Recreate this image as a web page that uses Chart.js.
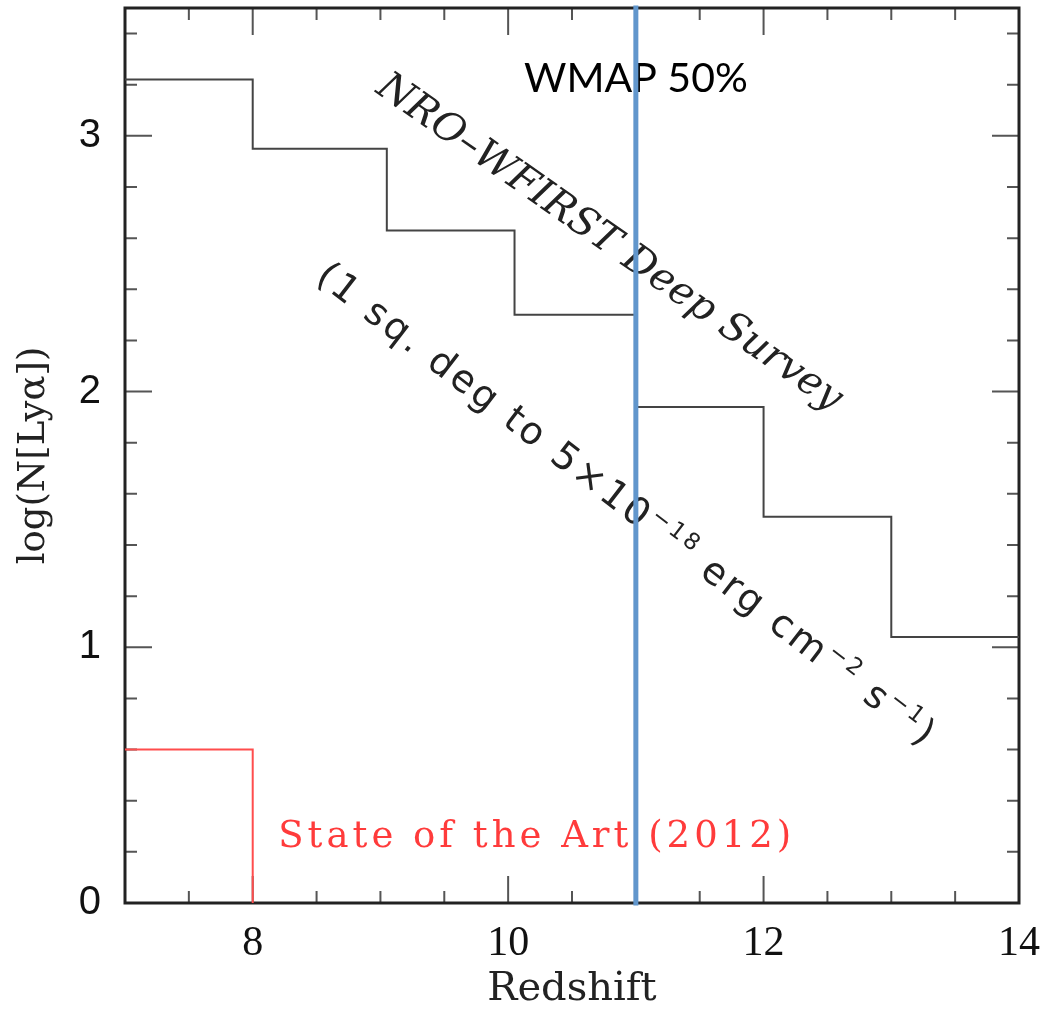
<!DOCTYPE html>
<html>
<head>
<meta charset="utf-8">
<script src="https://cdn.jsdelivr.net/npm/chart.js@4.4.0/dist/chart.umd.min.js"></script>
<style>
    html, body { margin: 0; padding: 0; background: #fff; }
</style>
</head>
<body>
<canvas id="lya_counts" width="1045" height="1010"></canvas>
<script>
// NRO-WFIRST deep survey: redshift bin edges and log(N[Lya]) per bin
var nroEdges = [7, 8, 9.05, 10.05, 11, 12, 13, 14];
var nroLogN = [3.22, 2.95, 2.63, 2.30, 1.94, 1.51, 1.04];
// state of the art (2012)
var sotaEdges = [7, 8];
var sotaLogN = [0.60];
// WMAP 50% reionization redshift
var wmapRedshift = 11;

var xRange = [7, 14];
var yRange = [0, 3.5];
var xTickLabels = [8, 10, 12, 14];
var yTickLabels = [0, 1, 2, 3];
var xMinorStep = 0.5;
var yMinorStep = 0.2;

function stepPoints(edges, values, dropToZero) {
    var pts = [];
    for (var i = 0; i < values.length; i++) {
        pts.push({x: edges[i], y: values[i]});
    }
    var last = values.length - 1;
    pts.push({x: edges[last + 1], y: values[last]});
    if (dropToZero) pts.push({x: edges[last + 1], y: 0});
    return pts;
}

// frame + inward ticks on all four sides (pgplot style)
var frameTicks = {
    id: 'frameTicks',
    beforeDatasetsDraw: function(chart) {
        var ctx = chart.ctx, a = chart.chartArea;
        var sx = chart.scales.x, sy = chart.scales.y;
        ctx.save();
        ctx.strokeStyle = '#555';
        ctx.lineWidth = 2;
        ctx.beginPath();
        var v, p, len;
        for (v = xRange[0]; v <= xRange[1] + 1e-9; v += xMinorStep) {
            p = sx.getPixelForValue(v);
            len = xTickLabels.indexOf(v) >= 0 ? 27 : 12;
            ctx.moveTo(p, a.bottom); ctx.lineTo(p, a.bottom - len);
            ctx.moveTo(p, a.top); ctx.lineTo(p, a.top + len);
        }
        for (var k = 0; k * yMinorStep <= yRange[1] + 1e-9; k++) {
            v = Math.round(k * yMinorStep * 10) / 10;
            p = sy.getPixelForValue(v);
            len = yTickLabels.indexOf(v) >= 0 ? 27 : 12;
            ctx.moveTo(a.left, p); ctx.lineTo(a.left + len, p);
            ctx.moveTo(a.right, p); ctx.lineTo(a.right - len, p);
        }
        ctx.stroke();
        ctx.strokeStyle = '#222';
        ctx.lineWidth = 3;
        ctx.strokeRect(a.left, a.top, a.right - a.left, a.bottom - a.top);

        // text annotations
        function at(x, y) { return [sx.getPixelForValue(x), sy.getPixelForValue(y)]; }
        var pt;

        ctx.fillStyle = '#000';
        ctx.font = '41px Lato';
        ctx.textAlign = 'center';
        ctx.textBaseline = 'middle';
        pt = at(wmapRedshift, 3.225);
        ctx.fillText('WMAP 50%', pt[0], pt[1]);

        ctx.fillStyle = '#ff3b3b';
        ctx.font = '37px "DejaVu Serif"';
        ctx.textAlign = 'left';
        ctx.letterSpacing = '4px';
        pt = at(8.2, 0.255);
        ctx.fillText('State of the Art (2012)', pt[0], pt[1]);

        ctx.fillStyle = '#222';
        ctx.font = 'italic 40px "DejaVu Serif"';
        ctx.textAlign = 'center';
        ctx.letterSpacing = '0px';
        pt = at(10.79, 2.58);
        ctx.save();
        ctx.translate(pt[0], pt[1]);
        ctx.rotate(35 * Math.PI / 180);
        ctx.fillText('NRO\u2013WFIRST Deep Survey', 0, 0);
        ctx.restore();

        // flux limit line with superscripts
        var pieces = [['(1 sq. deg to 5\u00d710', 0], ['\u221218', 1], [' erg cm', 0], ['\u22122', 1], [' s', 0], ['\u22121', 1], [')', 0]];
        var big = '38px "DejaVu Sans"', small = '23px "DejaVu Sans"';
        ctx.letterSpacing = '3px';
        var total = 0;
        pieces.forEach(function(pc) {
            ctx.font = pc[1] ? small : big;
            total += ctx.measureText(pc[0]).width;
        });
        pt = at(10.92, 1.55);
        ctx.save();
        ctx.translate(pt[0], pt[1]);
        ctx.rotate(37.5 * Math.PI / 180);
        ctx.textAlign = 'left';
        var cx = -total / 2;
        pieces.forEach(function(pc) {
            ctx.font = pc[1] ? small : big;
            ctx.fillText(pc[0], cx, pc[1] ? -11 : 0);
            cx += ctx.measureText(pc[0]).width;
        });
        ctx.restore();
        ctx.restore();
    }
};

var ctx = document.getElementById('lya_counts').getContext('2d');
var myChart = new Chart(ctx, {
    type: 'line',
    data: {
        datasets: [
            {
                label: 'WMAP 50%',
                data: [{x: wmapRedshift, y: yRange[0]}, {x: wmapRedshift, y: yRange[1]}],
                borderColor: '#6196cc',
                borderWidth: 5,
                borderCapStyle: 'square',
                pointRadius: 0,
                clip: false,
                order: 0
            },
            {
                label: 'NRO-WFIRST Deep Survey',
                data: stepPoints(nroEdges, nroLogN, false),
                stepped: 'before',
                borderColor: '#444',
                borderWidth: 2,
                pointRadius: 0,
                order: 1
            },
            {
                label: 'State of the Art (2012)',
                data: stepPoints(sotaEdges, sotaLogN, true),
                stepped: 'before',
                borderColor: '#ff4d4d',
                borderWidth: 2,
                pointRadius: 0,
                order: 2
            }
        ]
    },
    options: {
        responsive: false,
        animation: false,
        layout: { padding: { left: 0, right: 26, top: 8, bottom: 0 } },
        scales: {
            x: {
                type: 'linear',
                min: xRange[0],
                max: xRange[1],
                afterBuildTicks: function(scale) {
                    scale.ticks = xTickLabels.map(function(v) { return {value: v}; });
                },
                afterFit: function(scale) {
                    scale.height = 107;
                    scale.paddingLeft = 0;
                    scale.paddingRight = 0;
                },
                grid: { display: false, drawTicks: false },
                border: { display: false },
                ticks: {
                    autoSkip: false,
                    maxRotation: 0,
                    padding: 16,
                    color: '#111',
                    font: { family: 'Liberation Serif', size: 42 }
                },
                title: {
                    display: true,
                    text: 'Redshift',
                    color: '#222',
                    font: { family: 'DejaVu Serif', size: 40, lineHeight: 1 },
                    padding: { top: 0, bottom: 0 }
                }
            },
            y: {
                type: 'linear',
                min: yRange[0],
                max: yRange[1],
                afterBuildTicks: function(scale) {
                    scale.ticks = yTickLabels.map(function(v) { return {value: v}; });
                },
                afterFit: function(scale) {
                    scale.width = 125;
                    scale.paddingTop = 0;
                    scale.paddingBottom = 0;
                },
                grid: { display: false, drawTicks: false },
                border: { display: false },
                ticks: {
                    padding: 24,
                    color: '#111',
                    font: { family: 'Liberation Sans', size: 40 }
                },
                title: {
                    display: true,
                    text: 'log(N[Ly\u03b1])',
                    color: '#222',
                    font: { family: 'DejaVu Serif', size: 37, lineHeight: 1 },
                    padding: { top: 16, bottom: 0 }
                }
            }
        },
        plugins: {
            legend: { display: false },
            tooltip: { enabled: false }
        }
    },
    plugins: [frameTicks]
});
</script>
</body>
</html>
